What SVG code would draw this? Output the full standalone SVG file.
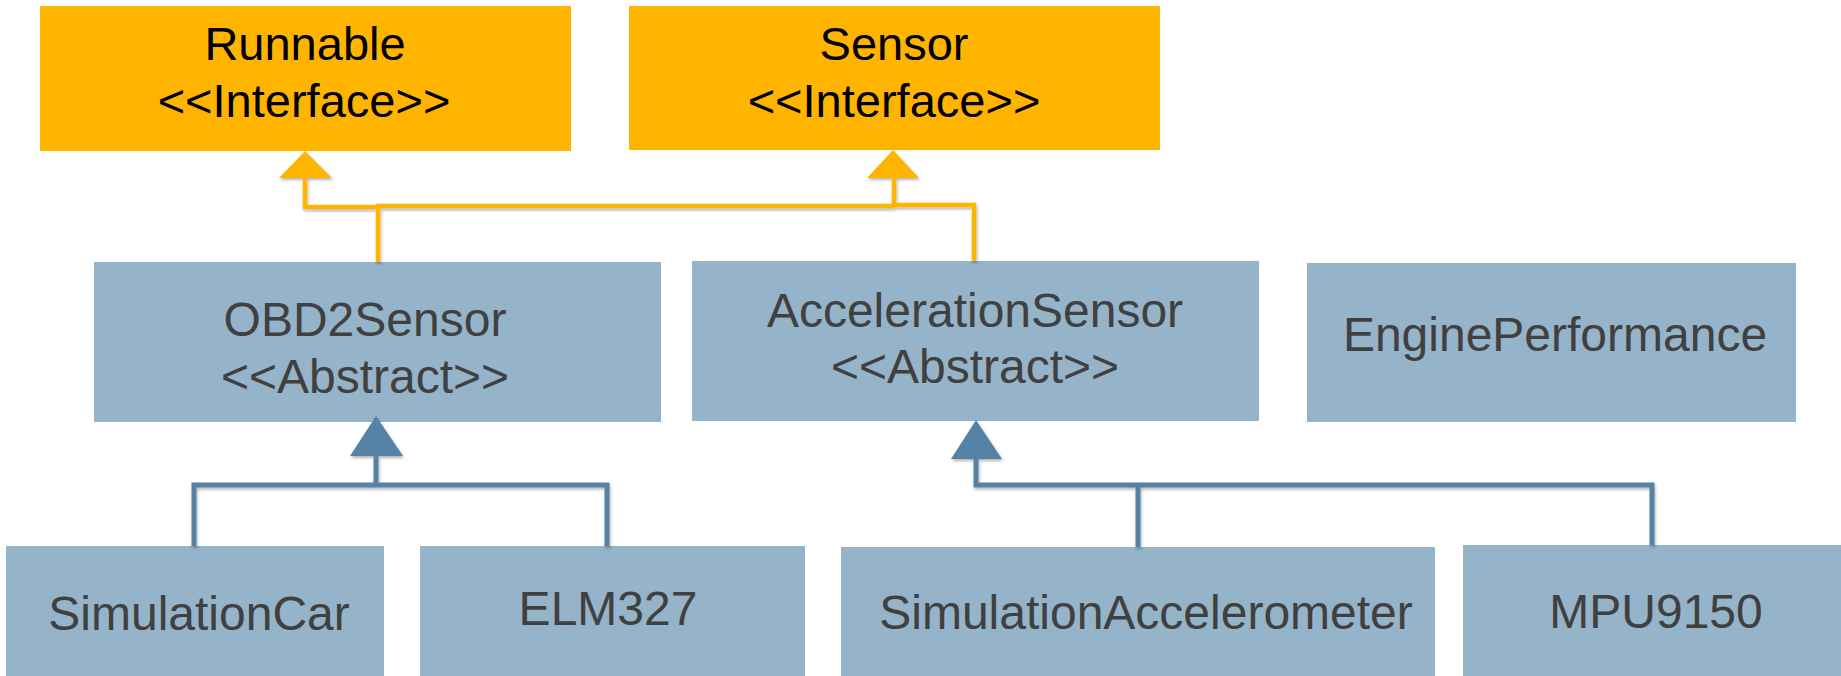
<svg xmlns="http://www.w3.org/2000/svg" width="1841" height="676" viewBox="0 0 1841 676">
<style>
.iface{fill:#FFB400}
.cls{fill:#95B3C9}
.t{font-family:"Liberation Sans",Arial,sans-serif;font-size:48px;text-anchor:middle}
.ti{fill:#000;font-size:47px}
.tc{fill:#404040}
.ly{fill:none;stroke:#FFB400;stroke-width:4.5}
.lb{fill:none;stroke:#5682A6;stroke-width:5}
.ay{fill:#FFB400}
.ab{fill:#5682A6}
</style>
<defs>
<filter id="sh" filterUnits="userSpaceOnUse" x="0" y="0" width="1841" height="676">
<feDropShadow dx="1" dy="2" stdDeviation="1.5" flood-color="#000" flood-opacity="0.3"/>
</filter>
</defs>
<rect width="1841" height="676" fill="#fff"/>
<g id="Runnable">
<rect class="iface" x="40" y="6" width="531" height="145"/>
<text class="t ti" x="305" y="60">Runnable</text>
<text class="t ti" x="304" y="117">&lt;&lt;Interface&gt;&gt;</text>
</g>
<g id="Sensor">
<rect class="iface" x="629" y="6" width="531" height="144"/>
<text class="t ti" x="894" y="60">Sensor</text>
<text class="t ti" x="894" y="117">&lt;&lt;Interface&gt;&gt;</text>
</g>
<g id="OBD2Sensor">
<rect class="cls" x="94" y="262" width="567" height="160"/>
<text class="t tc" x="365" y="336">OBD2Sensor</text>
<text class="t tc" x="365" y="393">&lt;&lt;Abstract&gt;&gt;</text>
</g>
<g id="AccelerationSensor">
<rect class="cls" x="692" y="261" width="567" height="160"/>
<text class="t tc" x="975" y="327">AccelerationSensor</text>
<text class="t tc" x="975" y="383">&lt;&lt;Abstract&gt;&gt;</text>
</g>
<g id="EnginePerformance">
<rect class="cls" x="1307" y="263" width="489" height="159"/>
<text class="t tc" x="1555" y="351">EnginePerformance</text>
</g>
<g id="SimulationCar">
<rect class="cls" x="6" y="546" width="378" height="130"/>
<text class="t tc" x="199" y="630">SimulationCar</text>
</g>
<g id="ELM327">
<rect class="cls" x="420" y="546" width="385" height="130"/>
<text class="t tc" x="608" y="625">ELM327</text>
</g>
<g id="SimulationAccelerometer">
<rect class="cls" x="841" y="547" width="594" height="129"/>
<text class="t tc" x="1146" y="629">SimulationAccelerometer</text>
</g>
<g id="MPU9150">
<rect class="cls" x="1463" y="545" width="378" height="131"/>
<text class="t tc" x="1656" y="628">MPU9150</text>
</g>
<g id="connectors" filter="url(#sh)">
<path class="ly" d="M305,178 V207 H378"/>
<path class="ly" d="M378,262 V206 H894"/>
<path class="ly" d="M894,178 V206"/>
<path class="ly" d="M974,261 V205 H894"/>
<polygon class="ay" points="305,151 332,178 279,178"/>
<polygon class="ay" points="893,150 919,178 867,178"/>
<path class="lb" d="M194,546 V485 H607 V546"/>
<path class="lb" d="M376,456 V485"/>
<polygon class="ab" points="376,416 403,456 350,456"/>
<path class="lb" d="M976,459 V485 H1652 V545"/>
<path class="lb" d="M1138,547 V485"/>
<polygon class="ab" points="976,420 1002,459 951,459"/>
</g>
</svg>
